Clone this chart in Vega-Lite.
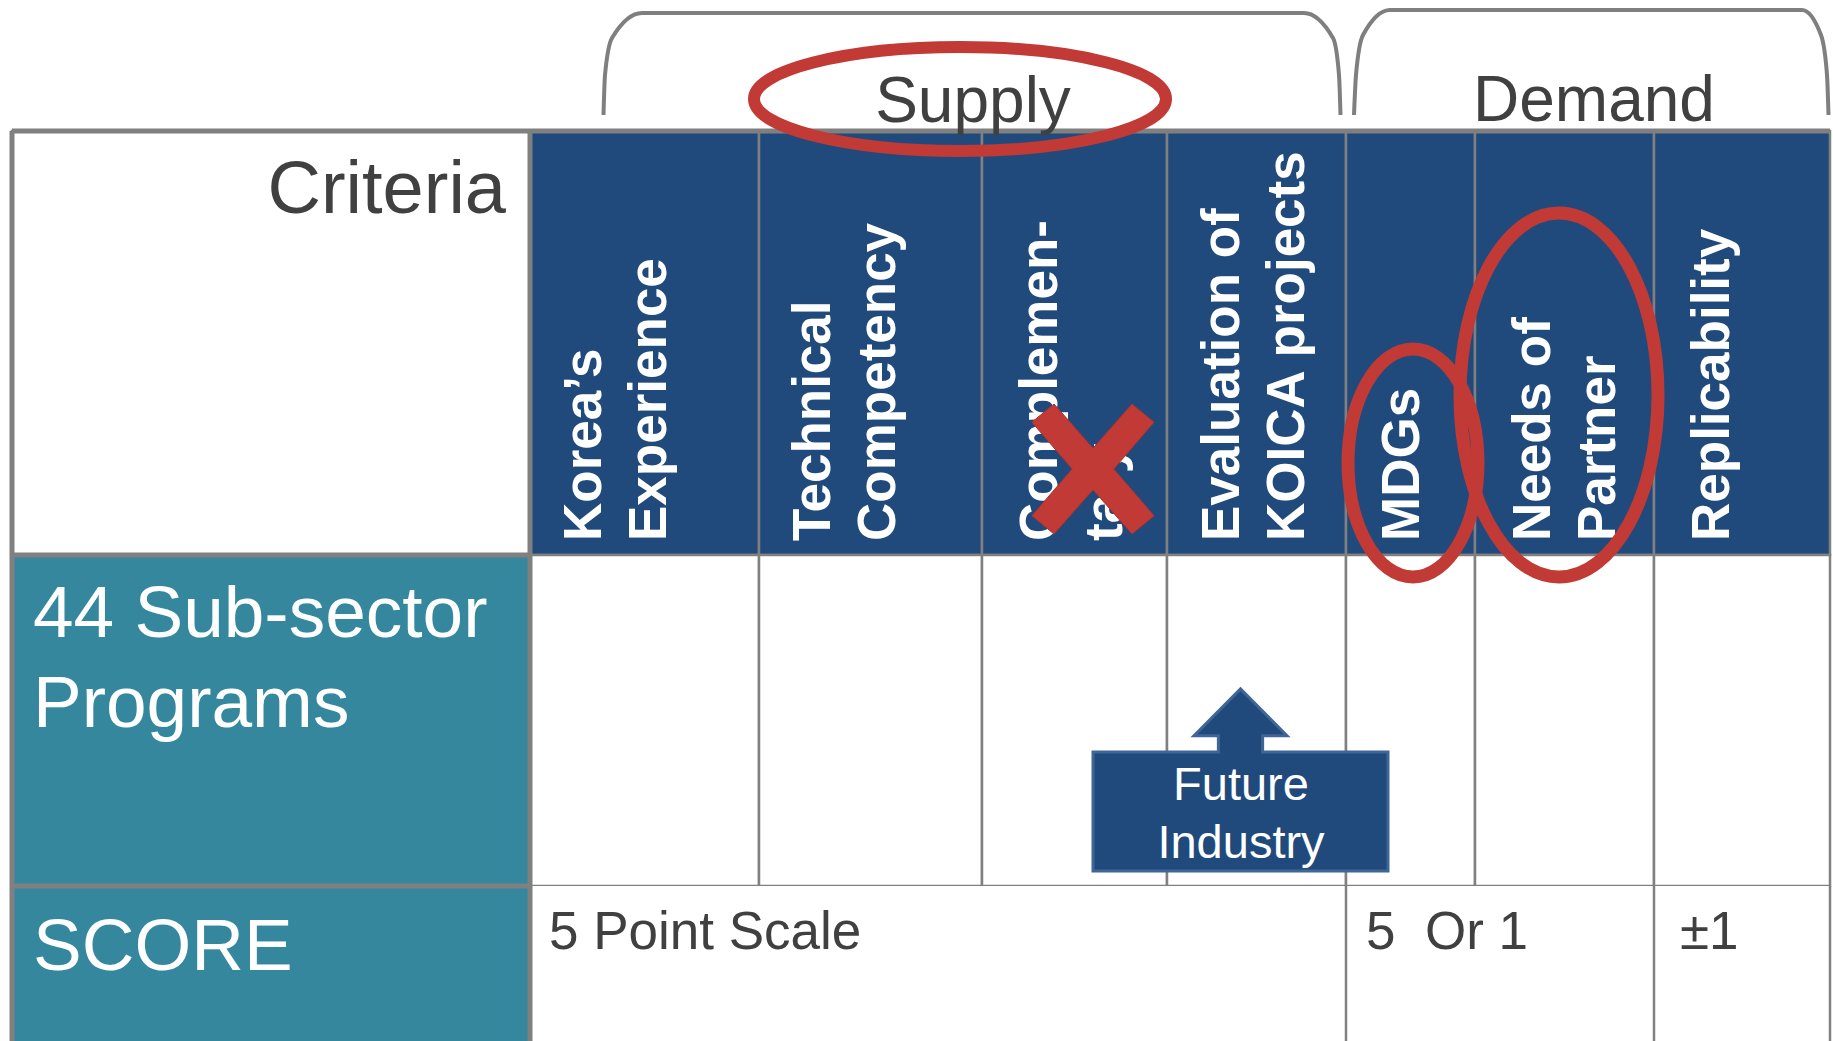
{
  "$schema": "https://vega.github.io/schema/vega-lite/v6.json",
  "width": 1833,
  "height": 1041,
  "autosize": {"type": "none"},
  "padding": 0,
  "background": "#ffffff",
  "config": {"view": {"stroke": null}},
  "datasets": {
    "cells": [
      {"row": 1, "kind": "blank", "x": 12, "x2": 530, "y": 131, "y2": 555},
      {"row": 1, "kind": "header", "x": 530, "x2": 759, "y": 131, "y2": 555},
      {"row": 1, "kind": "header", "x": 759, "x2": 982, "y": 131, "y2": 555},
      {"row": 1, "kind": "header", "x": 982, "x2": 1167, "y": 131, "y2": 555},
      {"row": 1, "kind": "header", "x": 1167, "x2": 1346, "y": 131, "y2": 555},
      {"row": 1, "kind": "header", "x": 1346, "x2": 1475, "y": 131, "y2": 555},
      {"row": 1, "kind": "header", "x": 1475, "x2": 1654, "y": 131, "y2": 555},
      {"row": 1, "kind": "header", "x": 1654, "x2": 1830, "y": 131, "y2": 555},
      {"row": 2, "kind": "label", "x": 12, "x2": 530, "y": 555, "y2": 886},
      {"row": 2, "kind": "blank", "x": 530, "x2": 759, "y": 555, "y2": 886},
      {"row": 2, "kind": "blank", "x": 759, "x2": 982, "y": 555, "y2": 886},
      {"row": 2, "kind": "blank", "x": 982, "x2": 1167, "y": 555, "y2": 886},
      {"row": 2, "kind": "blank", "x": 1167, "x2": 1346, "y": 555, "y2": 886},
      {"row": 2, "kind": "blank", "x": 1346, "x2": 1475, "y": 555, "y2": 886},
      {"row": 2, "kind": "blank", "x": 1475, "x2": 1654, "y": 555, "y2": 886},
      {"row": 2, "kind": "blank", "x": 1654, "x2": 1830, "y": 555, "y2": 886},
      {"row": 3, "kind": "label", "x": 12, "x2": 530, "y": 886, "y2": 1041},
      {"row": 3, "kind": "blank", "x": 530, "x2": 1830, "y": 886, "y2": 1041}
    ],
    "rules": [
      {"kind": "outer", "x": 12, "x2": 1830, "y": 131, "y2": 131},
      {"kind": "outer", "x": 12, "x2": 12, "y": 131, "y2": 1041},
      {"kind": "outer", "x": 12, "x2": 530, "y": 555, "y2": 555},
      {"kind": "outer", "x": 12, "x2": 530, "y": 886, "y2": 886},
      {"kind": "outer", "x": 530, "x2": 530, "y": 131, "y2": 1041},
      {"kind": "inner", "x": 1346, "x2": 1346, "y": 886, "y2": 1041},
      {"kind": "inner", "x": 1654, "x2": 1654, "y": 886, "y2": 1041},
      {"kind": "inner", "x": 1830, "x2": 1830, "y": 886, "y2": 1041}
    ],
    "brackets": [
      {"g": "Supply", "i": 1, "x": 603.5, "y": 115},
      {"g": "Supply", "i": 2, "x": 605, "y": 75},
      {"g": "Supply", "i": 3, "x": 612, "y": 38},
      {"g": "Supply", "i": 4, "x": 642, "y": 13},
      {"g": "Supply", "i": 5, "x": 1304, "y": 13},
      {"g": "Supply", "i": 6, "x": 1333, "y": 38},
      {"g": "Supply", "i": 7, "x": 1339, "y": 75},
      {"g": "Supply", "i": 8, "x": 1340.5, "y": 115},
      {"g": "Demand", "i": 1, "x": 1354, "y": 115},
      {"g": "Demand", "i": 2, "x": 1356, "y": 75},
      {"g": "Demand", "i": 3, "x": 1363, "y": 35},
      {"g": "Demand", "i": 4, "x": 1390, "y": 10},
      {"g": "Demand", "i": 5, "x": 1802, "y": 10},
      {"g": "Demand", "i": 6, "x": 1821, "y": 35},
      {"g": "Demand", "i": 7, "x": 1827, "y": 75},
      {"g": "Demand", "i": 8, "x": 1828.5, "y": 115}
    ],
    "headers": [
      {"t": "Korea’s\nExperience", "x": 601, "y": 541},
      {"t": "Technical\nCompetency", "x": 830, "y": 541},
      {"t": "Complemen-\ntary", "x": 1057, "y": 541},
      {"t": "Evaluation of\nKOICA projects", "x": 1239, "y": 541},
      {"t": "MDGs", "x": 1419, "y": 541},
      {"t": "Needs of\nPartner", "x": 1550, "y": 541},
      {"t": "Replicability", "x": 1729, "y": 541}
    ],
    "texts": [
      {"role": "criteria", "t": "Criteria", "x": 506, "y": 213},
      {"role": "group", "t": "Supply", "x": 973, "y": 122},
      {"role": "group", "t": "Demand", "x": 1594, "y": 121},
      {"role": "rowlabel", "t": "44 Sub-sector\nPrograms", "x": 33, "y": 637},
      {"role": "rowlabel", "t": "SCORE", "x": 33, "y": 970},
      {"role": "score", "t": "5 Point Scale", "x": 549, "y": 949},
      {"role": "score", "t": "5\u00a0\u00a0Or 1", "x": 1366, "y": 949},
      {"role": "score", "t": "±1", "x": 1680, "y": 949},
      {"role": "callout", "t": "Future\nIndustry", "x": 1241, "y": 800}
    ],
    "marks": [
      {"m": "supply", "x": 960, "y": 99},
      {"m": "cross", "x": 1093, "y": 469},
      {"m": "mdgs", "x": 1413, "y": 463},
      {"m": "needs", "x": 1559, "y": 395},
      {"m": "callout", "x": 1240.5, "y": 780}
    ]
  },
  "encoding": {
    "x": {"field": "x", "type": "quantitative", "scale": {"domain": [0, 1833], "nice": false, "zero": false}, "axis": null},
    "y": {"field": "y", "type": "quantitative", "scale": {"domain": [0, 1041], "nice": false, "zero": false, "reverse": true}, "axis": null}
  },
  "layer": [
    {
      "data": {"name": "cells"},
      "transform": [{"filter": "datum.row < 3"}],
      "mark": {"type": "rect", "stroke": "#808080", "strokeWidth": 2.5},
      "encoding": {
        "x2": {"field": "x2"},
        "y2": {"field": "y2"},
        "fill": {"field": "kind", "type": "nominal", "scale": {"domain": ["header", "label", "blank"], "range": ["#214a7c", "#34879d", "#ffffff"]}, "legend": null}
      }
    },
    {
      "data": {"name": "cells"},
      "transform": [{"filter": "datum.row == 3"}],
      "mark": {"type": "rect", "strokeWidth": 0},
      "encoding": {
        "x2": {"field": "x2"},
        "y2": {"field": "y2"},
        "fill": {"field": "kind", "type": "nominal", "legend": null}
      }
    },
    {
      "data": {"name": "rules"},
      "transform": [{"filter": "datum.kind == 'inner'"}],
      "mark": {"type": "rule", "color": "#808080", "strokeWidth": 2.5},
      "encoding": {"x2": {"field": "x2"}, "y2": {"field": "y2"}}
    },
    {
      "data": {"name": "rules"},
      "transform": [{"filter": "datum.kind == 'outer'"}],
      "mark": {"type": "rule", "color": "#808080", "strokeWidth": 5},
      "encoding": {"x2": {"field": "x2"}, "y2": {"field": "y2"}}
    },
    {
      "data": {"name": "brackets"},
      "mark": {"type": "line", "interpolate": "monotone", "color": "#7f7f7f", "strokeWidth": 4},
      "encoding": {"detail": {"field": "g"}, "order": {"field": "i", "type": "quantitative"}}
    },
    {
      "data": {"name": "headers"},
      "mark": {"type": "text", "angle": 270, "align": "left", "baseline": "alphabetic", "font": "Liberation Sans", "fontWeight": "bold", "fontSize": 53, "lineHeight": 65, "lineBreak": "\n", "fill": "#ffffff"},
      "encoding": {"text": {"field": "t"}}
    },
    {
      "data": {"name": "texts"},
      "transform": [{"filter": "datum.role == 'criteria'"}],
      "mark": {"type": "text", "align": "right", "baseline": "alphabetic", "font": "Liberation Sans", "fontSize": 74, "fill": "#404040"},
      "encoding": {"text": {"field": "t"}}
    },
    {
      "data": {"name": "texts"},
      "transform": [{"filter": "datum.role == 'group'"}],
      "mark": {"type": "text", "align": "center", "baseline": "alphabetic", "font": "Liberation Sans", "fontSize": 64, "fill": "#404040"},
      "encoding": {"text": {"field": "t"}}
    },
    {
      "data": {"name": "texts"},
      "transform": [{"filter": "datum.role == 'rowlabel'"}],
      "mark": {"type": "text", "align": "left", "baseline": "alphabetic", "font": "Liberation Sans", "fontSize": 73, "lineHeight": 90, "lineBreak": "\n", "fill": "#ffffff"},
      "encoding": {"text": {"field": "t"}}
    },
    {
      "data": {"name": "texts"},
      "transform": [{"filter": "datum.role == 'score'"}],
      "mark": {"type": "text", "align": "left", "baseline": "alphabetic", "font": "Liberation Sans", "fontSize": 53, "fill": "#404040"},
      "encoding": {"text": {"field": "t"}}
    },
    {
      "data": {"name": "marks"},
      "transform": [{"filter": "datum.m == 'callout'"}],
      "mark": {"type": "point", "filled": true, "fill": "#214a7c", "stroke": "#3f6696", "strokeWidth": 3, "opacity": 1, "fillOpacity": 1, "size": 87025, "shape": "M -1 -0.19 L -0.15 -0.19 L -0.15 -0.3 L -0.315 -0.3 L 0 -0.617 L 0.315 -0.3 L 0.15 -0.3 L 0.15 -0.19 L 1 -0.19 L 1 0.617 L -1 0.617 Z"}
    },
    {
      "data": {"name": "texts"},
      "transform": [{"filter": "datum.role == 'callout'"}],
      "mark": {"type": "text", "align": "center", "baseline": "alphabetic", "font": "Liberation Sans", "fontSize": 47, "lineHeight": 58, "lineBreak": "\n", "fill": "#ffffff"},
      "encoding": {"text": {"field": "t"}}
    },
    {
      "data": {"name": "marks"},
      "transform": [{"filter": "datum.m == 'cross'"}],
      "mark": {"type": "point", "filled": true, "fill": "#c23a35", "stroke": "#a83230", "strokeWidth": 1, "opacity": 1, "fillOpacity": 1, "size": 16900, "shape": "M -0.94 -0.72 L -0.6 -1 L 0 -0.32 L 0.6 -1 L 0.94 -0.72 L 0.32 0 L 0.94 0.72 L 0.6 1 L 0 0.32 L -0.6 1 L -0.94 0.72 L -0.32 0 Z"}
    },
    {
      "data": {"name": "marks"},
      "transform": [{"filter": "datum.m == 'supply'"}],
      "mark": {"type": "point", "filled": false, "stroke": "#c23a35", "strokeWidth": 12, "opacity": 1, "size": 169744, "shape": "M -1 0 C -1 -0.1394 -0.5523 -0.2524 0 -0.2524 C 0.5523 -0.2524 1 -0.1394 1 0 C 1 0.1394 0.5523 0.2524 0 0.2524 C -0.5523 0.2524 -1 0.1394 -1 0 Z"}
    },
    {
      "data": {"name": "marks"},
      "transform": [{"filter": "datum.m == 'mdgs'"}],
      "mark": {"type": "point", "filled": false, "stroke": "#c23a35", "strokeWidth": 13, "opacity": 1, "size": 51984, "shape": "M 0 -1 C 0.3149 -1 0.57 -0.5523 0.57 0 C 0.57 0.5523 0.3149 1 0 1 C -0.3149 1 -0.57 0.5523 -0.57 0 C -0.57 -0.5523 -0.3149 -1 0 -1 Z"}
    },
    {
      "data": {"name": "marks"},
      "transform": [{"filter": "datum.m == 'needs'"}],
      "mark": {"type": "point", "filled": false, "stroke": "#c23a35", "strokeWidth": 13, "opacity": 1, "size": 132496, "shape": "M 0 -1 C 0.3004 -1 0.544 -0.5523 0.544 0 C 0.544 0.5523 0.3004 1 0 1 C -0.3004 1 -0.544 0.5523 -0.544 0 C -0.544 -0.5523 -0.3004 -1 0 -1 Z"}
    }
  ]
}
